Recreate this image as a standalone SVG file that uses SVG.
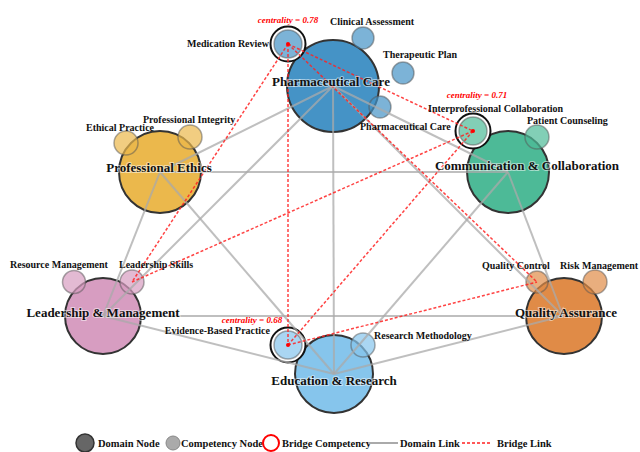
<svg xmlns="http://www.w3.org/2000/svg" width="640" height="452" viewBox="0 0 640 452">
<style>
.dom{stroke:#333;stroke-width:2}
.comp{fill-opacity:0.7;stroke:#555;stroke-opacity:0.5;stroke-width:1.5}
.ring{fill:#fff;stroke:#111;stroke-width:2}
.dot{fill:#f00}
.dl{stroke:#aaa;stroke-opacity:0.75;stroke-width:2;fill:none}
.bl{stroke:#f22;stroke-opacity:0.85;stroke-width:1.5;stroke-dasharray:3,2;fill:none}
text{font-family:"Liberation Serif","Times New Roman",serif;font-weight:bold;fill:#111}
.dt{font-size:13px;text-anchor:middle;stroke:#fff;stroke-opacity:0.5;stroke-width:2;paint-order:stroke}
.ct{font-size:10px}
.cen{font-size:9px;font-style:italic;fill:#f00;text-anchor:middle}
.lg{font-size:10.5px}
.pc{fill:#4593c6}.cc{fill:#4dba97}.pe{fill:#ebb84c}.lm{fill:#d79dc1}.qa{fill:#e08b47}.er{fill:#86c5ec}
</style>
<g id="domain-pharmaceutical-care"><circle class="dom pc" cx="333" cy="86" r="46"/></g>
<g id="domain-communication"><circle class="dom cc" cx="508" cy="172" r="41"/></g>
<g id="domain-professional-ethics"><circle class="dom pe" cx="160" cy="172" r="41"/></g>
<g id="domain-leadership"><circle class="dom lm" cx="103" cy="316" r="38"/></g>
<g id="domain-quality"><circle class="dom qa" cx="564" cy="316" r="38"/></g>
<g id="domain-education"><circle class="dom er" cx="334" cy="374" r="39"/></g>

<g id="comp-medication-review"><circle class="ring" cx="288" cy="44" r="17.5"/><circle class="comp pc" cx="288" cy="44" r="14"/></g>
<g id="comp-clinical-assessment"><circle class="comp pc" cx="363" cy="38" r="11"/></g>
<g id="comp-therapeutic-plan"><circle class="comp pc" cx="403" cy="73" r="11"/></g>
<g id="comp-pharmaceutical-care"><circle class="comp pc" cx="380" cy="107" r="11"/></g>
<g id="comp-interprofessional"><circle class="ring" cx="473" cy="131" r="17.5"/><circle class="comp cc" cx="473" cy="131" r="14"/></g>
<g id="comp-patient-counseling"><circle class="comp cc" cx="537" cy="137" r="12"/></g>
<g id="comp-ethical-practice"><circle class="comp pe" cx="126" cy="143" r="12"/></g>
<g id="comp-professional-integrity"><circle class="comp pe" cx="190" cy="137" r="12"/></g>
<g id="comp-resource-management"><circle class="comp lm" cx="74" cy="282" r="11.5"/></g>
<g id="comp-leadership-skills"><circle class="comp lm" cx="132" cy="282" r="12"/></g>
<g id="comp-evidence-based"><circle class="ring" cx="288" cy="345" r="17.5"/><circle class="comp er" cx="288" cy="345" r="14"/></g>
<g id="comp-research-methodology"><circle class="comp er" cx="363" cy="345" r="12"/></g>
<g id="comp-quality-control"><circle class="comp qa" cx="537" cy="282" r="11"/></g>
<g id="comp-risk-management"><circle class="comp qa" cx="595" cy="282" r="12"/></g>

<g id="connectors">
<g id="domain-links">
<line class="dl" x1="333" y1="86" x2="160" y2="172"/>
<line class="dl" x1="333" y1="86" x2="508" y2="172"/>
<line class="dl" x1="333" y1="86" x2="103" y2="316"/>
<line class="dl" x1="333" y1="86" x2="334" y2="374"/>
<line class="dl" x1="333" y1="86" x2="563" y2="316"/>
<line class="dl" x1="160" y1="172" x2="508" y2="172"/>
<line class="dl" x1="160" y1="172" x2="103" y2="316"/>
<line class="dl" x1="160" y1="172" x2="334" y2="374"/>
<line class="dl" x1="508" y1="172" x2="563" y2="316"/>
<line class="dl" x1="508" y1="172" x2="334" y2="374"/>
<line class="dl" x1="103" y1="316" x2="563" y2="316"/>
<line class="dl" x1="103" y1="316" x2="334" y2="374"/>
<line class="dl" x1="563" y1="316" x2="334" y2="374"/>
</g>
<g id="bridge-links">
<line class="bl" x1="288" y1="44" x2="473" y2="131"/>
<line class="bl" x1="288" y1="44" x2="132" y2="282"/>
<line class="bl" x1="288" y1="44" x2="288" y2="345"/>
<line class="bl" x1="288" y1="44" x2="537" y2="282"/>
<line class="bl" x1="473" y1="131" x2="132" y2="282"/>
<line class="bl" x1="473" y1="131" x2="288" y2="345"/>
<line class="bl" x1="288" y1="345" x2="537" y2="282"/>
</g>
</g>

<g id="bridge-dots">
<circle class="dot" cx="288" cy="44" r="2"/>
<circle class="dot" cx="473" cy="131" r="2"/>
<circle class="dot" cx="288" cy="345" r="2"/>
</g>

<g id="labels">
<text class="dt" x="331" y="86">Pharmaceutical Care</text>
<text class="dt" x="527" y="170">Communication &amp; Collaboration</text>
<text class="dt" x="159" y="172">Professional Ethics</text>
<text class="dt" x="103" y="317">Leadership &amp; Management</text>
<text class="dt" x="566" y="317">Quality Assurance</text>
<text class="dt" x="334" y="385">Education &amp; Research</text>

<text class="ct" x="269" y="47" text-anchor="end">Medication Review</text>
<text class="ct" x="330" y="25">Clinical Assessment</text>
<text class="ct" x="383" y="58">Therapeutic Plan</text>
<text class="ct" x="360" y="130">Pharmaceutical Care</text>
<text class="ct" x="428" y="112">Interprofessional Collaboration</text>
<text class="ct" x="527" y="124">Patient Counseling</text>
<text class="ct" x="86" y="131">Ethical Practice</text>
<text class="ct" x="143" y="123">Professional Integrity</text>
<text class="ct" x="10" y="268">Resource Management</text>
<text class="ct" x="119" y="268">Leadership Skills</text>
<text class="ct" x="270" y="334" text-anchor="end">Evidence-Based Practice</text>
<text class="ct" x="374" y="339">Research Methodology</text>
<text class="ct" x="482" y="269">Quality Control</text>
<text class="ct" x="560" y="269">Risk Management</text>

<text class="cen" x="288" y="23">centrality = 0.78</text>
<text class="cen" x="477" y="98">centrality = 0.71</text>
<text class="cen" x="252" y="323">centrality = 0.68</text>
</g>

<g id="legend">
<circle cx="85" cy="443" r="9" fill="#666" stroke="#333" stroke-width="1.5"/>
<text class="lg" x="98" y="447">Domain Node</text>
<circle cx="173" cy="443" r="7" fill="#aaa" stroke="#888" stroke-width="1"/>
<text class="lg" x="181" y="447">Competency Node</text>
<circle cx="271" cy="443" r="8" fill="#fff" stroke="#f00" stroke-width="2"/>
<text class="lg" x="282" y="447">Bridge Competency</text>
<line x1="368" y1="443" x2="398" y2="443" stroke="#aaa" stroke-width="2"/>
<text class="lg" x="400" y="447">Domain Link</text>
<line x1="462" y1="443" x2="490" y2="443" stroke="#f22" stroke-width="1.5" stroke-dasharray="3,2"/>
<text class="lg" x="497" y="447">Bridge Link</text>
</g>
</svg>
